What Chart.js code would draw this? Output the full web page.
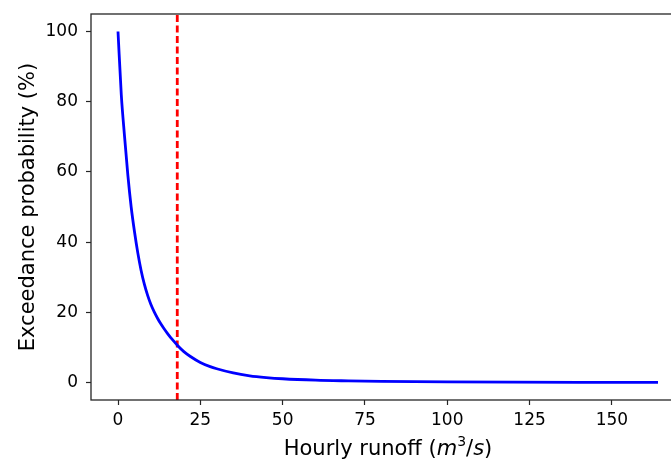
<!DOCTYPE html>
<html>
<head>
<meta charset="utf-8">
<script src="https://cdn.jsdelivr.net/npm/chart.js@4"></script>
<style>
  html, body { margin: 0; padding: 0; background: #fff; overflow: hidden; }
  #wrap { width: 700px; height: 460px; }
</style>
</head>
<body>
<div id="wrap"><canvas id="lineChart" width="700" height="460"></canvas></div>
<script>
// runoff (m3/s) and exceedance probability (%)
const runoff = [0, 1, 2, 3, 4, 5, 6, 7, 8, 9, 10, 11, 12, 13, 14, 15, 16, 17, 18, 20, 22, 25, 28, 30, 35, 40, 45, 50, 60, 70, 80, 100, 120, 140, 164];
const exceedance = [100, 82, 70, 59, 50, 43, 37, 32, 28, 24.8, 22.2, 20.1, 18.3, 16.7, 15.3, 14.0, 12.8, 11.7, 10.6, 8.8, 7.4, 5.7, 4.5, 3.9, 2.7, 1.9, 1.4, 1.05, 0.65, 0.45, 0.3, 0.15, 0.08, 0.04, 0.01];
const threshold = 18;
const xTicks = [0, 25, 50, 75, 100, 125, 150];
const yTicks = [0, 20, 40, 60, 80, 100];

const FONT = "'DejaVu Sans', sans-serif";

// top/right spines + rich x title (italic m, s and superscript 3)
const framePlugin = {
  id: 'frame',
  afterDraw(chart) {
    const { ctx, chartArea: a } = chart;
    ctx.save();
    ctx.strokeStyle = '#262626';
    ctx.lineWidth = 1.3;
    ctx.strokeRect(a.left, a.top, a.right - a.left, a.bottom - a.top);

    const parts = [
      { t: 'Hourly runoff (', f: '21px ' + FONT, dy: 0 },
      { t: 'm', f: 'italic 21px ' + FONT, dy: 0 },
      { t: '3', f: '14px ' + FONT, dy: -9 },
      { t: '/', f: '21px ' + FONT, dy: 0 },
      { t: 's', f: 'italic 21px ' + FONT, dy: 0 },
      { t: ')', f: '21px ' + FONT, dy: 0 }
    ];
    let total = 0;
    parts.forEach(p => { ctx.font = p.f; p.w = ctx.measureText(p.t).width; total += p.w; });
    let x = (a.left + a.right) / 2 - total / 2;
    const y = 455;
    ctx.fillStyle = '#000';
    ctx.textBaseline = 'alphabetic';
    ctx.textAlign = 'left';
    parts.forEach(p => { ctx.font = p.f; ctx.fillText(p.t, x, y + p.dy); x += p.w; });
    ctx.restore();
  }
};

const ctx = document.getElementById('lineChart').getContext('2d');
new Chart(ctx, {
  type: 'line',
  data: {
    datasets: [
      {
        data: runoff.map((x, i) => ({ x: x, y: exceedance[i] })),
        borderColor: '#0000ff',
        borderWidth: 2.8,
        pointRadius: 0,
        cubicInterpolationMode: 'monotone',
        fill: false
      },
      {
        data: [{ x: threshold, y: -5 }, { x: threshold, y: 105 }],
        borderColor: '#ff0000',
        borderWidth: 2.8,
        borderDash: [7, 3.5],
        pointRadius: 0,
        fill: false
      }
    ]
  },
  options: {
    responsive: false,
    animation: false,
    layout: { padding: { top: 14, right: 15, left: 0, bottom: 0 } },
    plugins: { legend: { display: false }, tooltip: { enabled: false } },
    scales: {
      x: {
        type: 'linear',
        min: -8.2,
        max: 172.2,
        afterBuildTicks: s => { s.ticks = xTicks.map(v => ({ value: v })); },
        afterFit: s => { s.height = 60; s.paddingLeft = 0; s.paddingRight = 0; },
        grid: { drawOnChartArea: false, drawTicks: true, tickLength: 5, tickColor: '#262626', tickWidth: 1.2 },
        border: { display: false },
        ticks: { color: '#000', padding: 5, font: { family: FONT, size: 17 }, maxRotation: 0 },
        title: { display: false }
      },
      y: {
        type: 'linear',
        min: -5,
        max: 105,
        afterBuildTicks: s => { s.ticks = yTicks.map(v => ({ value: v })); },
        afterFit: s => { s.width = 91; s.paddingTop = 0; s.paddingBottom = 0; },
        grid: { drawOnChartArea: false, drawTicks: true, tickLength: 5, tickColor: '#262626', tickWidth: 1.2 },
        border: { display: false },
        ticks: { color: '#000', padding: 8, font: { family: FONT, size: 17 } },
        title: {
          display: true,
          text: 'Exceedance probability (%)',
          color: '#000',
          font: { family: FONT, size: 21 },
          padding: { top: 16, bottom: 0 }
        }
      }
    }
  },
  plugins: [framePlugin]
});
</script>
</body>
</html>
